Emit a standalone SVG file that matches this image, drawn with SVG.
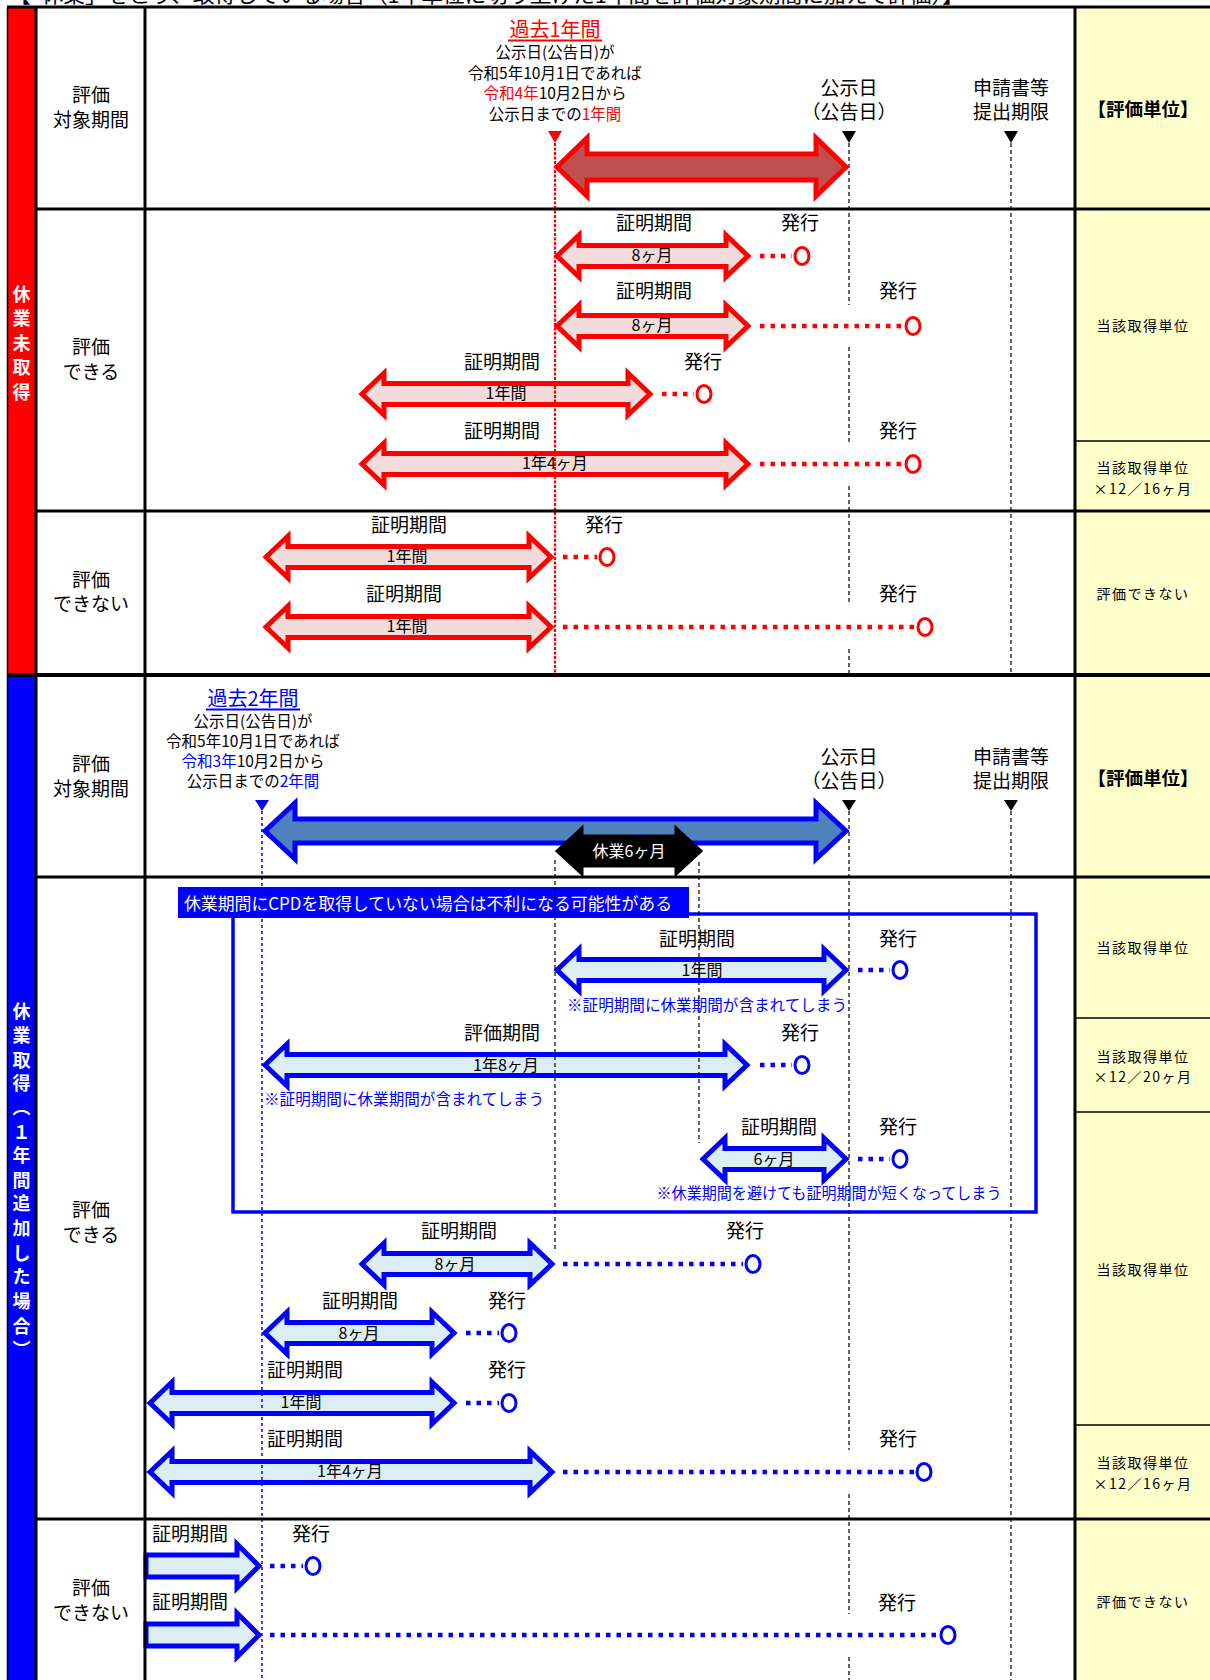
<svg xmlns="http://www.w3.org/2000/svg" width="1210" height="1680" viewBox="0 0 1210 1680">
<style>
text{font-family:"Noto Sans CJK JP","Noto Sans CJK SC",sans-serif;fill:#000}
.c{text-anchor:middle;dominant-baseline:central}
.s{text-anchor:start;dominant-baseline:central}
.lab{font-size:19px;transform:translateY(-2px)}
.hd{font-size:19px;transform:translateY(-1px)}
.sm{font-size:15.5px;transform:translateY(-1px)}
.al{font-size:16px;transform:translateY(-2px)}
.yl{font-size:14px;letter-spacing:1.5px}
.unit{font-size:18.5px;font-weight:bold}
.bar{font-size:18px;font-weight:bold;fill:#fff}
.note{font-size:15.5px;fill:#0000ff;transform:translateY(-1.5px)}
.red{fill:#ff0000}
.blu{fill:#0000ff}
.ra{fill:#f2dcdb;stroke:#ff0000;stroke-width:5;stroke-linejoin:miter}
.ba{fill:#dbeef3;stroke:#0000ff;stroke-width:5;stroke-linejoin:miter}
.rdot{stroke:#ff0000;stroke-width:4.5;stroke-dasharray:4.5 6;fill:none}
.bdot{stroke:#0000ff;stroke-width:4.5;stroke-dasharray:4.5 6;fill:none}
.rc{fill:#fff;stroke:#ff0000;stroke-width:3}
.bc{fill:#fff;stroke:#0000ff;stroke-width:3}
.kd{stroke:#000;stroke-width:1.2;stroke-dasharray:4 3;fill:none}
.grid{stroke:#000;stroke-width:3;fill:none}
.thin{stroke:#000;stroke-width:1.5;fill:none}
</style>

<!-- clipped title -->
<text x="9" y="2.5" font-size="20" textLength="955" lengthAdjust="spacingAndGlyphs">【「休業」をとり、取得している場合（1年単位に切り上げた1年間を評価対象期間に加えて評価）】</text>

<!-- backgrounds -->
<g id="bars">
<rect x="8" y="7" width="27" height="668" fill="#ff0000"/>
<rect x="8" y="675" width="27" height="1005" fill="#0000ff"/>
<rect x="1075" y="7" width="135" height="1673" fill="#ffffcc"/>
</g>

<!-- reference lines -->
<g id="reflines">
<path class="kd" d="M849 143V305M849 347V442M849 486V605M849 649V675"/>
<path class="kd" d="M1011 143V675"/>
<path class="kd" d="M849 811V1450M849 1494V1614M849 1657V1680"/>
<path class="kd" d="M1011 811V1680"/>
</g>

<!-- Section 1: red -->
<g id="red-period">
<text class="c red" x="555" y="28" font-size="20">過去1年間</text>
<line x1="508" y1="40.5" x2="602" y2="40.5" stroke="#ff0000" stroke-width="2"/>
<text class="c sm" x="555" y="52">公示日(公告日)が</text>
<text class="c sm" x="555" y="73">令和5年10月1日であれば</text>
<text class="c sm" x="555" y="93"><tspan class="red">令和4年</tspan>10月2日から</text>
<text class="c sm" x="555" y="114">公示日までの<tspan class="red">1年間</tspan></text>
<polygon points="548,131 562,131 555,143" fill="#ff0000"/>
<text class="c hd" x="849" y="87">公示日</text>
<text class="c hd" x="849" y="111">（公告日）</text>
<polygon points="842,131 856,131 849,143" fill="#000"/>
<text class="c hd" x="1011" y="87">申請書等</text>
<text class="c hd" x="1011" y="111">提出期限</text>
<polygon points="1004,131 1018,131 1011,143" fill="#000"/>
<polygon points="557,167 587,138 587,154 816,154 816,138 846,167 816,196 816,180 587,180 587,196" fill="#c0504d" stroke="#ff0000" stroke-width="5"/>
</g>

<g id="red-A1">
<polygon class="ra" points="557,256 579,235 579,245.5 726,245.5 726,235 748,256 726,277 726,266.5 579,266.5 579,277"/>
<text class="c al" x="652" y="256">8ヶ月</text>
<text class="c lab" x="654" y="223">証明期間</text>
<text class="c lab" x="800" y="223">発行</text>
</g>
<g id="red-A2">
<polygon class="ra" points="557,326 579,305 579,315.5 726,315.5 726,305 748,326 726,347 726,336.5 579,336.5 579,347"/>
<text class="c al" x="652" y="326">8ヶ月</text>
<text class="c lab" x="654" y="291">証明期間</text>
<text class="c lab" x="898" y="291">発行</text>
</g>
<g id="red-A3">
<polygon class="ra" points="362,394 384,373 384,383.5 628,383.5 628,373 650,394 628,415 628,404.5 384,404.5 384,415"/>
<text class="c al" x="506" y="394">1年間</text>
<text class="c lab" x="502" y="362">証明期間</text>
<text class="c lab" x="703" y="362">発行</text>
</g>
<g id="red-A4">
<polygon class="ra" points="362,464 384,443 384,453.5 726,453.5 726,443 748,464 726,485 726,474.5 384,474.5 384,485"/>
<text class="c al" x="555" y="464">1年4ヶ月</text>
<text class="c lab" x="502" y="431">証明期間</text>
<text class="c lab" x="898" y="431">発行</text>
</g>
<g id="red-B1">
<polygon class="ra" points="266,557 288,536 288,546.5 529,546.5 529,536 551,557 529,578 529,567.5 288,567.5 288,578"/>
<text class="c al" x="407" y="557">1年間</text>
<text class="c lab" x="409" y="525">証明期間</text>
<text class="c lab" x="604" y="525">発行</text>
</g>
<g id="red-B2">
<polygon class="ra" points="266,627 288,606 288,616.5 529,616.5 529,606 551,627 529,648 529,637.5 288,637.5 288,648"/>
<text class="c al" x="407" y="627">1年間</text>
<text class="c lab" x="404" y="594">証明期間</text>
<text class="c lab" x="898" y="594">発行</text>
</g>

<!-- Section 2: blue -->
<g id="blue-period">
<text class="c blu" x="253" y="697" font-size="20">過去2年間</text>
<line x1="206" y1="709.5" x2="300" y2="709.5" stroke="#0000ff" stroke-width="2"/>
<text class="c sm" x="253" y="721">公示日(公告日)が</text>
<text class="c sm" x="253" y="741">令和5年10月1日であれば</text>
<text class="c sm" x="253" y="761"><tspan class="blu">令和3年</tspan>10月2日から</text>
<text class="c sm" x="253" y="781">公示日までの<tspan class="blu">2年間</tspan></text>
<polygon points="255,800 269,800 262,811" fill="#0000ff"/>
<text class="c hd" x="849" y="756">公示日</text>
<text class="c hd" x="849" y="780">（公告日）</text>
<polygon points="842,800 856,800 849,811" fill="#000"/>
<text class="c hd" x="1011" y="756">申請書等</text>
<text class="c hd" x="1011" y="780">提出期限</text>
<polygon points="1004,800 1018,800 1011,811" fill="#000"/>
<polygon points="265,831 295,803 295,819 816,819 816,803 846,831 816,859 816,843 295,843 295,859" fill="#4f81bd" stroke="#0000ff" stroke-width="5"/>
</g>

<g id="blue-notebox">
<rect x="233" y="914" width="803" height="298" fill="none" stroke="#0000ff" stroke-width="3.5"/>
<rect x="178" y="887" width="511" height="31" fill="#0000ff"/>
<text class="s" x="184" y="902" font-size="17" style="fill:#fff" textLength="488" lengthAdjust="spacingAndGlyphs">休業期間にCPDを取得していない場合は不利になる可能性がある</text>
</g>

<g id="blue-C1">
<polygon class="ba" points="557,970 579,949 579,959.5 824,959.5 824,949 846,970 824,991 824,980.5 579,980.5 579,991"/>
<text class="c al" x="702" y="971">1年間</text>
<text class="c lab" x="697" y="939">証明期間</text>
<text class="c lab" x="898" y="939">発行</text>
<text class="c note" x="707" y="1005" textLength="280" lengthAdjust="spacingAndGlyphs">※証明期間に休業期間が含まれてしまう</text>
</g>
<g id="blue-C2">
<polygon class="ba" points="265,1065 287,1044 287,1054.5 725,1054.5 725,1044 747,1065 725,1086 725,1075.5 287,1075.5 287,1086"/>
<text class="c al" x="506" y="1066">1年8ヶ月</text>
<text class="c lab" x="502" y="1033">評価期間</text>
<text class="c lab" x="800" y="1033">発行</text>
<text class="s note" x="264" y="1099" textLength="280" lengthAdjust="spacingAndGlyphs">※証明期間に休業期間が含まれてしまう</text>
</g>
<g id="blue-C3">
<polygon class="ba" points="703,1159 725,1138 725,1148.5 824,1148.5 824,1138 846,1159 824,1180 824,1169.5 725,1169.5 725,1180"/>
<text class="c al" x="774" y="1160">6ヶ月</text>
<text class="c lab" x="779" y="1127">証明期間</text>
<text class="c lab" x="898" y="1127">発行</text>
<text class="c note" x="829" y="1193" textLength="345" lengthAdjust="spacingAndGlyphs">※休業期間を避けても証明期間が短くなってしまう</text>
</g>
<g id="blue-D1">
<polygon class="ba" points="362,1264 384,1243 384,1253.5 530,1253.5 530,1243 552,1264 530,1285 530,1274.5 384,1274.5 384,1285"/>
<text class="c al" x="455" y="1265">8ヶ月</text>
<text class="c lab" x="459" y="1231">証明期間</text>
<text class="c lab" x="745" y="1231">発行</text>
</g>
<g id="blue-D2">
<polygon class="ba" points="265,1333 287,1312 287,1322.5 432,1322.5 432,1312 454,1333 432,1354 432,1343.5 287,1343.5 287,1354"/>
<text class="c al" x="359" y="1334">8ヶ月</text>
<text class="c lab" x="360" y="1301">証明期間</text>
<text class="c lab" x="507" y="1301">発行</text>
</g>
<g id="blue-D3">
<polygon class="ba" points="150,1403 172,1382 172,1392.5 432,1392.5 432,1382 454,1403 432,1424 432,1413.5 172,1413.5 172,1424"/>
<text class="c al" x="301" y="1403">1年間</text>
<text class="c lab" x="305" y="1370">証明期間</text>
<text class="c lab" x="507" y="1370">発行</text>
</g>
<g id="blue-D4">
<polygon class="ba" points="150,1472 172,1451 172,1461.5 530,1461.5 530,1451 552,1472 530,1493 530,1482.5 172,1482.5 172,1493"/>
<text class="c al" x="350" y="1472">1年4ヶ月</text>
<text class="c lab" x="305" y="1439">証明期間</text>
<text class="c lab" x="898" y="1439">発行</text>
</g>
<g id="blue-E1">
<polygon class="ba" points="146,1555 237,1555 237,1544 259,1566 237,1588 237,1577 146,1577"/>
<text class="c lab" x="190" y="1534">証明期間</text>
<text class="c lab" x="311" y="1534">発行</text>
</g>
<g id="blue-E2">
<polygon class="ba" points="146,1624 237,1624 237,1613 259,1635 237,1657 237,1646 146,1646"/>
<text class="c lab" x="190" y="1602">証明期間</text>
<text class="c lab" x="897" y="1603">発行</text>
</g>

<!-- connectors: dotted issue lines and circles -->
<g id="connectors">
<path class="rdot" d="M760 256H792M760 326H903M662 394H694M760 464H903M563 557H597M563 627H915"/>
<ellipse class="rc" cx="802" cy="256" rx="7" ry="8.5"/>
<ellipse class="rc" cx="913" cy="326" rx="7" ry="8.5"/>
<ellipse class="rc" cx="704" cy="394" rx="7" ry="8.5"/>
<ellipse class="rc" cx="913" cy="464" rx="7" ry="8.5"/>
<ellipse class="rc" cx="607" cy="557" rx="7" ry="8.5"/>
<ellipse class="rc" cx="925" cy="627" rx="7" ry="8.5"/>
<path class="bdot" d="M858 970H890M760 1065H792M858 1159H890M563 1264H743M466 1333H499M466 1403H499M563 1472H914M270 1566H303M270 1635H938"/>
<ellipse class="bc" cx="900" cy="970" rx="7" ry="8.5"/>
<ellipse class="bc" cx="802" cy="1065" rx="7" ry="8.5"/>
<ellipse class="bc" cx="900" cy="1159" rx="7" ry="8.5"/>
<ellipse class="bc" cx="753" cy="1264" rx="7" ry="8.5"/>
<ellipse class="bc" cx="509" cy="1333" rx="7" ry="8.5"/>
<ellipse class="bc" cx="509" cy="1403" rx="7" ry="8.5"/>
<ellipse class="bc" cx="924" cy="1472" rx="7" ry="8.5"/>
<ellipse class="bc" cx="313" cy="1566" rx="7" ry="8.5"/>
<ellipse class="bc" cx="948" cy="1635" rx="7" ry="8.5"/>
</g>

<!-- lines drawn over arrows -->
<g id="overlines">
<line x1="555" y1="143" x2="555" y2="675" stroke="#ff0000" stroke-width="2.2" stroke-dasharray="3 1.5"/>
<line x1="262" y1="811" x2="262" y2="1680" stroke="#0000ff" stroke-width="1.5" stroke-dasharray="3 3"/>
<path class="kd" d="M555 860V1250M699 862V1143"/>
</g>

<g id="kyugyo">
<polygon points="557,851 582,828 582,836 676,836 676,828 701,851 676,874 676,866 582,866 582,874" fill="#000" stroke="#000" stroke-width="3"/>
<text class="c" x="629" y="850" font-size="16" style="fill:#fff">休業6ヶ月</text>
</g>

<!-- grid -->
<g id="grid">
<line class="grid" x1="7" y1="7" x2="1210" y2="7"/>
<line class="grid" x1="35" y1="209" x2="1210" y2="209"/>
<line class="grid" x1="35" y1="511" x2="1210" y2="511"/>
<line x1="7" y1="675" x2="1210" y2="675" stroke="#000" stroke-width="4"/>
<line class="grid" x1="35" y1="877" x2="1210" y2="877"/>
<line class="grid" x1="35" y1="1519" x2="1210" y2="1519"/>
<line class="thin" x1="1075" y1="441" x2="1210" y2="441"/>
<line class="thin" x1="1075" y1="1018" x2="1210" y2="1018"/>
<line class="thin" x1="1075" y1="1112" x2="1210" y2="1112"/>
<line class="thin" x1="1075" y1="1425" x2="1210" y2="1425"/>
<line class="thin" x1="7.5" y1="7" x2="7.5" y2="1680"/>
<line class="grid" x1="36" y1="7" x2="36" y2="1680"/>
<line class="grid" x1="145" y1="7" x2="145" y2="1680"/>
<line class="grid" x1="1075" y1="7" x2="1075" y2="1680"/>
</g>

<!-- left labels -->
<g id="labels">
<text class="c lab" x="91" y="95">評価</text>
<text class="c lab" x="91" y="120">対象期間</text>
<text class="c lab" x="91" y="347">評価</text>
<text class="c lab" x="91" y="372">できる</text>
<text class="c lab" x="91" y="580">評価</text>
<text class="c lab" x="91" y="604">できない</text>
<text class="c lab" x="91" y="764">評価</text>
<text class="c lab" x="91" y="789">対象期間</text>
<text class="c lab" x="91" y="1210">評価</text>
<text class="c lab" x="91" y="1235">できる</text>
<text class="c lab" x="91" y="1588">評価</text>
<text class="c lab" x="91" y="1613">できない</text>
</g>

<g id="barlabels">
<text class="c bar" x="21.5" y="293">休</text>
<text class="c bar" x="21.5" y="317">業</text>
<text class="c bar" x="21.5" y="342">未</text>
<text class="c bar" x="21.5" y="366">取</text>
<text class="c bar" x="21.5" y="391">得</text>
<text class="c bar" x="21.5" y="1010">休</text>
<text class="c bar" x="21.5" y="1034">業</text>
<text class="c bar" x="21.5" y="1059">取</text>
<text class="c bar" x="21.5" y="1082">得</text>
<text class="c bar" x="21.5" y="1106">︵</text>
<text class="c bar" x="21.5" y="1131">１</text>
<text class="c bar" x="21.5" y="1154">年</text>
<text class="c bar" x="21.5" y="1179">間</text>
<text class="c bar" x="21.5" y="1202">追</text>
<text class="c bar" x="21.5" y="1227">加</text>
<text class="c bar" x="21.5" y="1252">し</text>
<text class="c bar" x="21.5" y="1275">た</text>
<text class="c bar" x="21.5" y="1300">場</text>
<text class="c bar" x="21.5" y="1325">合</text>
<text class="c bar" x="21.5" y="1348">︶</text>
</g>

<g id="units">
<text class="c unit" x="1143" y="108">【評価単位】</text>
<text class="c yl" x="1143" y="325">当該取得単位</text>
<text class="c yl" x="1143" y="467">当該取得単位</text>
<text class="c yl" x="1143" y="488">×12／16ヶ月</text>
<text class="c yl" x="1143" y="593">評価できない</text>
<text class="c unit" x="1143" y="777">【評価単位】</text>
<text class="c yl" x="1143" y="947">当該取得単位</text>
<text class="c yl" x="1143" y="1056">当該取得単位</text>
<text class="c yl" x="1143" y="1076">×12／20ヶ月</text>
<text class="c yl" x="1143" y="1269">当該取得単位</text>
<text class="c yl" x="1143" y="1462">当該取得単位</text>
<text class="c yl" x="1143" y="1483">×12／16ヶ月</text>
<text class="c yl" x="1143" y="1601">評価できない</text>
</g>
</svg>
